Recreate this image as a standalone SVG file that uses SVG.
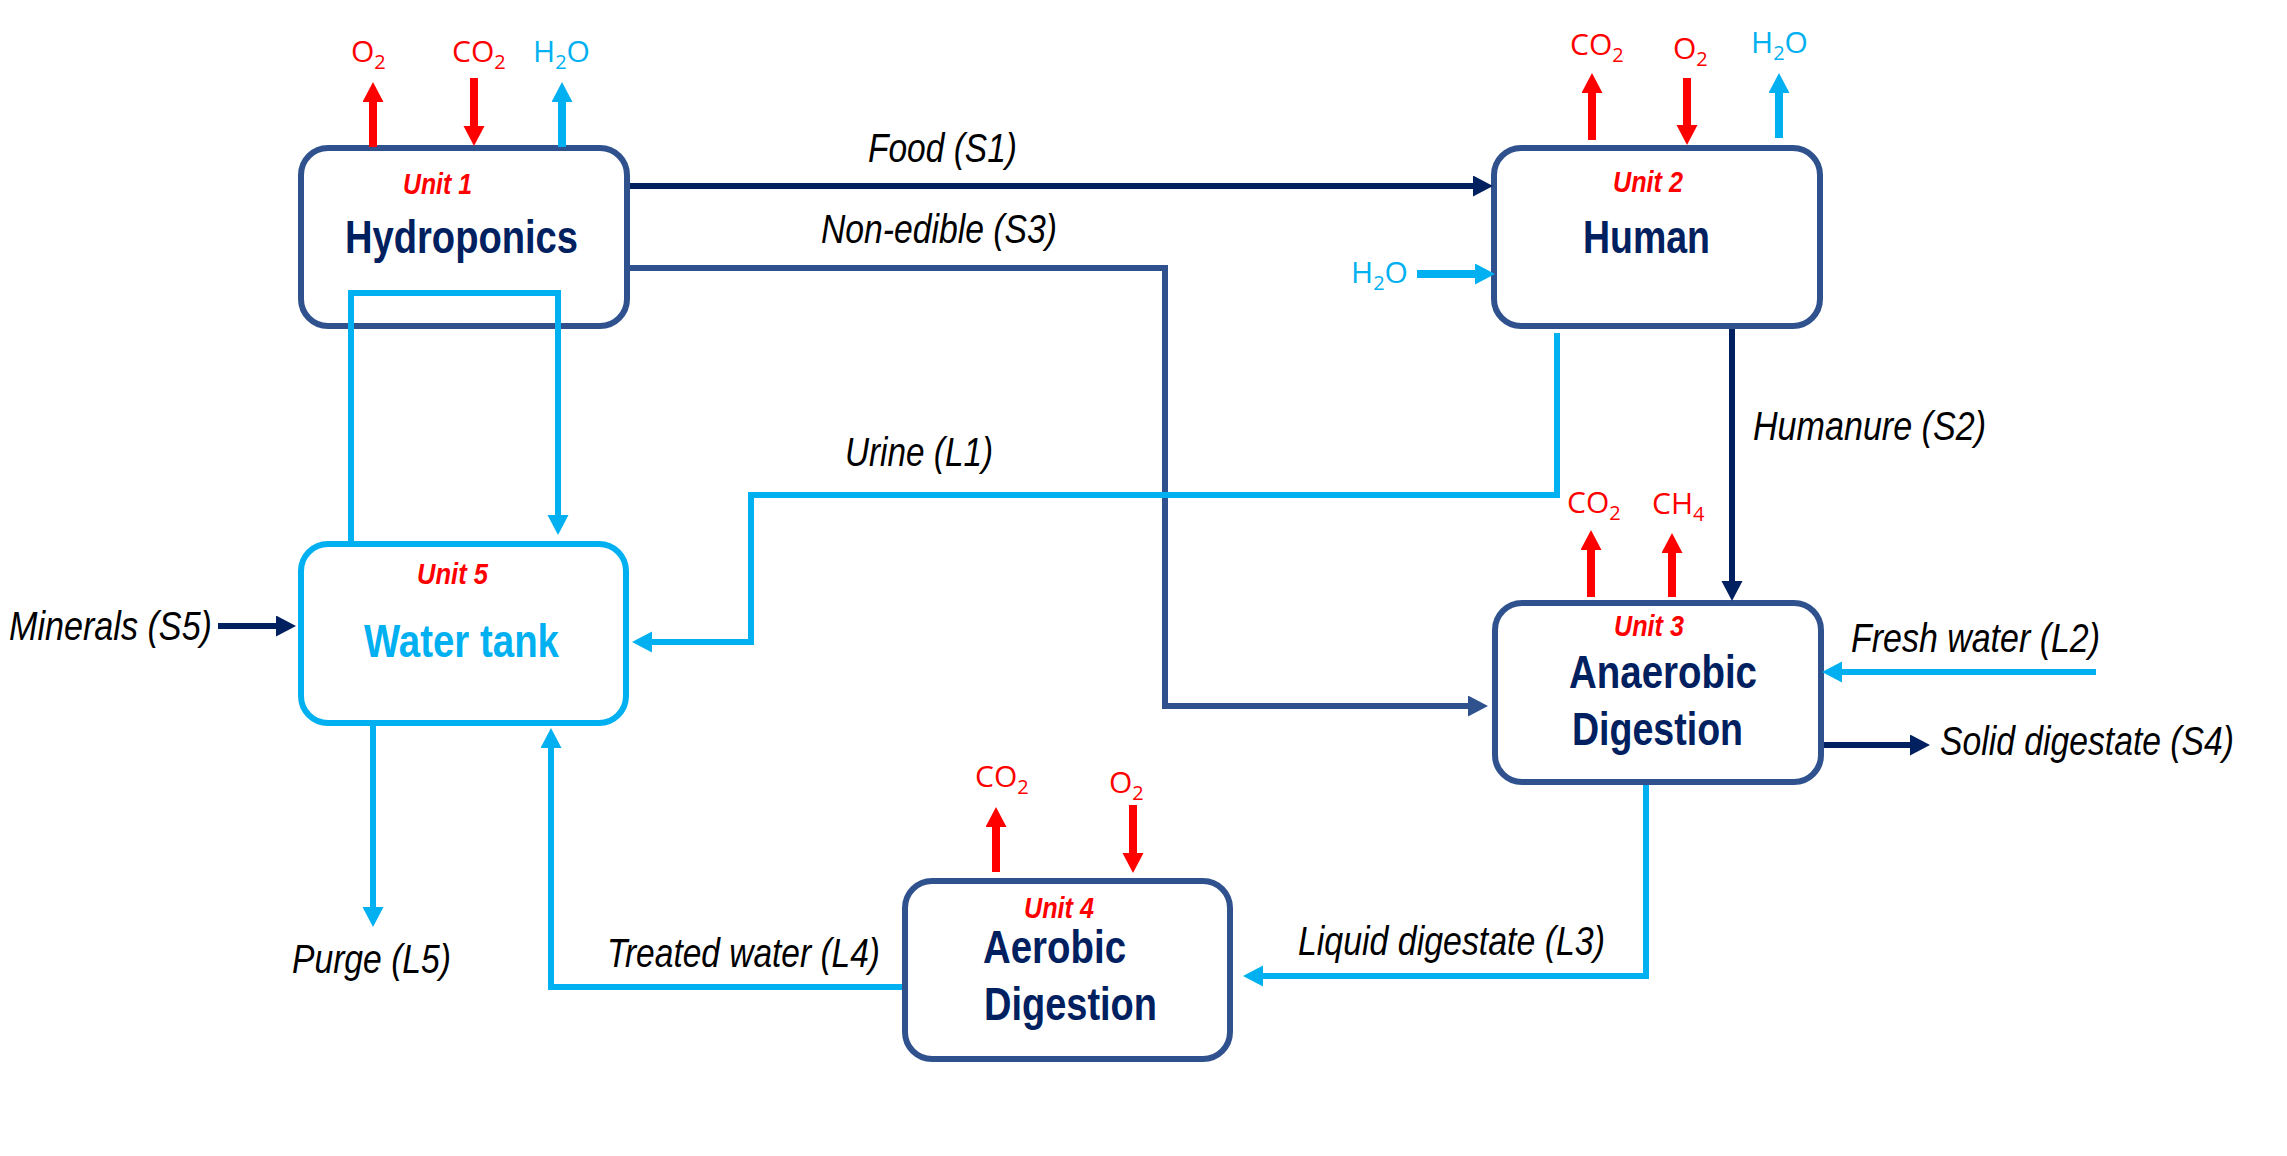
<svg xmlns="http://www.w3.org/2000/svg" width="2287" height="1156" viewBox="0 0 2287 1156">
<style>
.box{fill:#fff;stroke:#2F528F;stroke-width:6}
.boxL{fill:#fff;stroke:#00B0F0;stroke-width:6}
.unit{font-family:"Liberation Sans Narrow","Liberation Sans",Arial,sans-serif;font-weight:bold;font-style:italic;font-size:29px;fill:#FF0000}
.name{font-family:"Liberation Sans Narrow","Liberation Sans",Arial,sans-serif;font-weight:bold;font-size:46px;fill:#002060}
.nameL{font-family:"Liberation Sans Narrow","Liberation Sans",Arial,sans-serif;font-weight:bold;font-size:46px;fill:#00B0F0}
.lbl{font-family:"Liberation Sans Narrow","Liberation Sans",Arial,sans-serif;font-style:italic;font-size:40px;fill:#000}
.chem{font-family:"Open Sans","Noto Sans",sans-serif;font-size:30px}
.red{fill:#FF0000}
.blue{fill:#00B0F0}
.ln{fill:none;stroke-linejoin:miter}
.navy{stroke:#002060;stroke-width:6}
.mid{stroke:#2F528F;stroke-width:6}
.lb{stroke:#00B0F0;stroke-width:6}
.gasR{stroke:#FF0000;stroke-width:8}
.gasB{stroke:#00B0F0;stroke-width:8}
</style>
<defs>
<marker id="aNavy" markerUnits="userSpaceOnUse" markerWidth="22" markerHeight="22" refX="10" refY="10.5" orient="auto"><path d="M0,0 L20,10.5 L0,21 Z" fill="#002060"/></marker>
<marker id="aMid" markerUnits="userSpaceOnUse" markerWidth="22" markerHeight="22" refX="10" refY="10.5" orient="auto"><path d="M0,0 L20,10.5 L0,21 Z" fill="#2F528F"/></marker>
<marker id="aLb" markerUnits="userSpaceOnUse" markerWidth="22" markerHeight="22" refX="10" refY="10.5" orient="auto"><path d="M0,0 L20,10.5 L0,21 Z" fill="#00B0F0"/></marker>
<marker id="aRed" markerUnits="userSpaceOnUse" markerWidth="22" markerHeight="22" refX="10" refY="10.5" orient="auto"><path d="M0,0 L20,10.5 L0,21 Z" fill="#FF0000"/></marker>
</defs>
<rect width="2287" height="1156" fill="#fff"/>

<g id="unit1-hydroponics">
<rect class="box" x="301" y="148" width="326" height="178" rx="27"/>
<text class="unit" x="403" y="194" textLength="69" lengthAdjust="spacingAndGlyphs">Unit 1</text>
<text class="name" x="345" y="253" textLength="233" lengthAdjust="spacingAndGlyphs">Hydroponics</text>
</g>
<g id="unit2-human">
<rect class="box" x="1494" y="148" width="326" height="178" rx="27"/>
<text class="unit" x="1613" y="192" textLength="70" lengthAdjust="spacingAndGlyphs">Unit 2</text>
<text class="name" x="1583" y="253" textLength="127" lengthAdjust="spacingAndGlyphs">Human</text>
</g>
<g id="unit5-water-tank">
<rect class="boxL" x="301" y="544" width="325" height="179" rx="27"/>
<text class="unit" x="417" y="584" textLength="71" lengthAdjust="spacingAndGlyphs">Unit 5</text>
<text class="nameL" x="364" y="657" textLength="195" lengthAdjust="spacingAndGlyphs">Water tank</text>
</g>
<g id="unit3-anaerobic">
<rect class="box" x="1495" y="603" width="326" height="179" rx="27"/>
<text class="unit" x="1614" y="636" textLength="70" lengthAdjust="spacingAndGlyphs">Unit 3</text>
<text class="name" x="1569" y="688" textLength="188" lengthAdjust="spacingAndGlyphs">Anaerobic</text>
<text class="name" x="1572" y="745" textLength="171" lengthAdjust="spacingAndGlyphs">Digestion</text>
</g>
<g id="unit4-aerobic">
<rect class="box" x="905" y="881" width="325" height="178" rx="27"/>
<text class="unit" x="1024" y="918" textLength="70" lengthAdjust="spacingAndGlyphs">Unit 4</text>
<text class="name" x="983" y="963" textLength="143" lengthAdjust="spacingAndGlyphs">Aerobic</text>
<text class="name" x="984" y="1020" textLength="173" lengthAdjust="spacingAndGlyphs">Digestion</text>
</g>

<g id="connectors">
<path class="ln navy" d="M630,186 H1483" marker-end="url(#aNavy)"/>
<path class="ln mid" d="M630,268 H1165 V706 H1478" marker-end="url(#aMid)"/>
<path class="ln navy" d="M1732,329 V591" marker-end="url(#aNavy)"/>
<path class="ln lb" d="M1557,333 V495 H751 V642 H642" marker-end="url(#aLb)"/>
<path class="ln lb" d="M351,541 V293 H558 V525" marker-end="url(#aLb)"/>
<path class="ln lb" d="M373,726 V917" marker-end="url(#aLb)"/>
<path class="ln lb" d="M902,987 H551 V738" marker-end="url(#aLb)"/>
<path class="ln lb" d="M1646,785 V976 H1253" marker-end="url(#aLb)"/>
<path class="ln navy" d="M218,626 H286" marker-end="url(#aNavy)"/>
<path class="ln lb" d="M2096,672 H1832" marker-end="url(#aLb)"/>
<path class="ln navy" d="M1824,745 H1920" marker-end="url(#aNavy)"/>
<path class="ln gasB" d="M1417,274 H1485" marker-end="url(#aLb)"/>

<path class="ln gasR" d="M373,147 V92" marker-end="url(#aRed)"/>
<path class="ln gasR" d="M474,78 V136" marker-end="url(#aRed)"/>
<path class="ln gasB" d="M562,147 V92" marker-end="url(#aLb)"/>
<path class="ln gasR" d="M1592,140 V83" marker-end="url(#aRed)"/>
<path class="ln gasR" d="M1687,78 V135" marker-end="url(#aRed)"/>
<path class="ln gasB" d="M1779,138 V83" marker-end="url(#aLb)"/>
<path class="ln gasR" d="M1591,597 V540" marker-end="url(#aRed)"/>
<path class="ln gasR" d="M1672,597 V543" marker-end="url(#aRed)"/>
<path class="ln gasR" d="M996,872 V817" marker-end="url(#aRed)"/>
<path class="ln gasR" d="M1133,805 V863" marker-end="url(#aRed)"/>

<text class="lbl" x="868" y="162" textLength="149" lengthAdjust="spacingAndGlyphs">Food (S1)</text>
<text class="lbl" x="821" y="243" textLength="236" lengthAdjust="spacingAndGlyphs">Non-edible (S3)</text>
<text class="lbl" x="845" y="466" textLength="148" lengthAdjust="spacingAndGlyphs">Urine (L1)</text>
<text class="lbl" x="1753" y="440" textLength="233" lengthAdjust="spacingAndGlyphs">Humanure (S2)</text>
<text class="lbl" x="1851" y="652" textLength="249" lengthAdjust="spacingAndGlyphs">Fresh water (L2)</text>
<text class="lbl" x="1940" y="755" textLength="294" lengthAdjust="spacingAndGlyphs">Solid digestate (S4)</text>
<text class="lbl" x="9" y="640" textLength="203" lengthAdjust="spacingAndGlyphs">Minerals (S5)</text>
<text class="lbl" x="292" y="973" textLength="159" lengthAdjust="spacingAndGlyphs">Purge (L5)</text>
<text class="lbl" x="607" y="967" textLength="273" lengthAdjust="spacingAndGlyphs">Treated water (L4)</text>
<text class="lbl" x="1298" y="955" textLength="307" lengthAdjust="spacingAndGlyphs">Liquid digestate (L3)</text>

<text class="chem red" x="351" y="62">O<tspan font-size="20" dy="7">2</tspan></text>
<text class="chem red" x="452" y="62">CO<tspan font-size="20" dy="7">2</tspan></text>
<text class="chem blue" x="533" y="62">H<tspan font-size="20" dy="7">2</tspan><tspan dy="-7">O</tspan></text>
<text class="chem red" x="1570" y="55">CO<tspan font-size="20" dy="7">2</tspan></text>
<text class="chem red" x="1673" y="59">O<tspan font-size="20" dy="7">2</tspan></text>
<text class="chem blue" x="1751" y="53">H<tspan font-size="20" dy="7">2</tspan><tspan dy="-7">O</tspan></text>
<text class="chem blue" x="1351" y="283">H<tspan font-size="20" dy="7">2</tspan><tspan dy="-7">O</tspan></text>
<text class="chem red" x="1567" y="513">CO<tspan font-size="20" dy="7">2</tspan></text>
<text class="chem red" x="1652" y="514">CH<tspan font-size="20" dy="7">4</tspan></text>
<text class="chem red" x="975" y="787">CO<tspan font-size="20" dy="7">2</tspan></text>
<text class="chem red" x="1109" y="793">O<tspan font-size="20" dy="7">2</tspan></text>
</g>
</svg>
